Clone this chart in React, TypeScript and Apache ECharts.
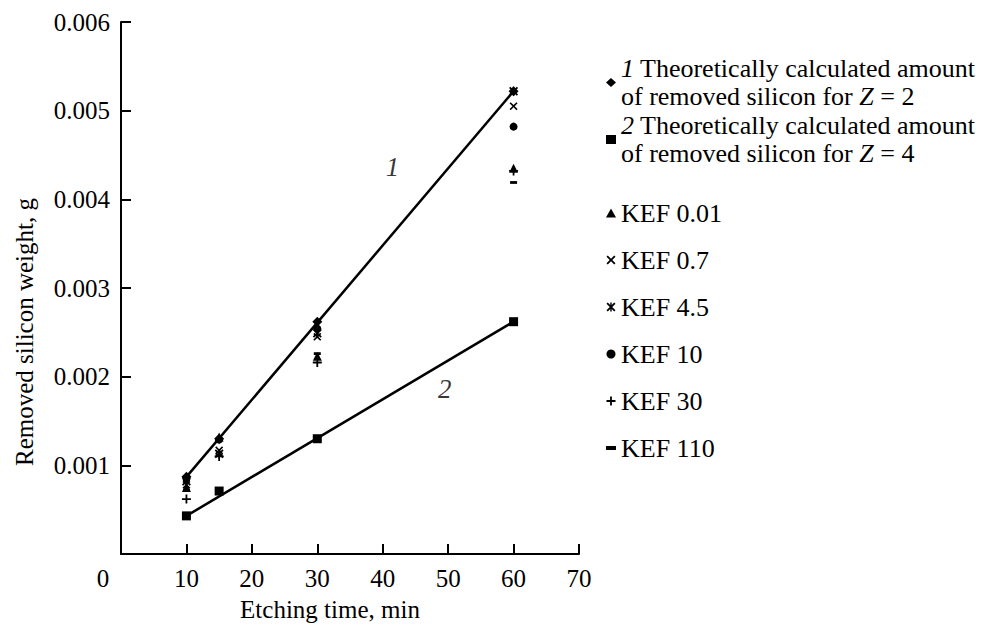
import React, { useEffect, useRef } from 'react';
import * as echarts from 'echarts';

const times = [10, 15, 30, 60];
const theoryZ2 = [0.00087, 0.0013, 0.00262, 0.00522];
const theoryZ4 = [0.00043, 0.00071, 0.0013, 0.00262];
const kef001 = [0.00075, 0.00132, 0.00223, 0.00435];
const kef07 = [0.00078, 0.00117, 0.00245, 0.00505];
const kef45 = [0.00082, 0.00113, 0.00249, 0.00522];
const kef10 = [0.00085, 0.00129, 0.00254, 0.00482];
const kef30 = [0.00062, 0.0011, 0.00216, 0.00432];
const kef110 = [0.00072, 0.00112, 0.00226, 0.00419];

const curveLabels = [
  { text: '1', x: 41.5, y: 0.00437 },
  { text: '2', x: 49.5, y: 0.00186 },
];

const NAME_Z2 = 'Theory Z=2';
const NAME_Z4 = 'Theory Z=4';
const kefNames = ['KEF 0.01', 'KEF 0.7', 'KEF 4.5', 'KEF 10', 'KEF 30', 'KEF 110'];

const FONT = 'Liberation Serif, serif';

const P_X = 'path://M0,1.4L1.4,0L5,3.6L8.6,0L10,1.4L6.4,5L10,8.6L8.6,10L5,6.4L1.4,10L0,8.6L3.6,5Z';
const P_AST = 'path://M0,1.4L1.4,0L5,3.6L8.6,0L10,1.4L6.4,5L10,8.6L8.6,10L5,6.4L1.4,10L0,8.6L3.6,5ZM4.2,0H5.8V10H4.2Z';
const P_PLUS = 'path://M4,0H6V4H10V6H6V10H4V6H0V4H4Z';
const P_MINUS = 'path://M0,0H6V2.4H0Z';

const pts = (vals: number[]) => times.map((t, i) => [t, vals[i]]);

export default function App() {
  const ref = useRef<HTMLDivElement>(null);
  useEffect(() => {
    if (!ref.current) return;
    const chart = echarts.init(ref.current, null, { renderer: 'svg' });
    const black = '#000';
    const scatter = (name: string, vals: number[], symbol: string, size: any, keep = false) => ({
      type: 'scatter',
      name,
      data: pts(vals),
      symbol,
      symbolSize: size,
      symbolKeepAspect: keep,
      itemStyle: { color: black, opacity: 1 },
      z: 3,
    });
    const legendText = (name: string) => {
      if (name === NAME_Z2) return '{i|1} Theoretically calculated amount\nof removed silicon for {i|Z} = 2';
      if (name === NAME_Z4) return '{i|2} Theoretically calculated amount\nof removed silicon for {i|Z} = 4';
      return name;
    };
    const axisText = { fontFamily: FONT, fontSize: 25, color: black };
    const legText = { fontFamily: FONT, fontSize: 26, color: black };
    chart.setOption({
      animation: false,
      textStyle: { fontFamily: FONT },
      grid: { left: 121, top: 22, width: 458, height: 540 },
      xAxis: {
        type: 'value',
        min: 0,
        max: 70,
        interval: 10,
        name: 'Etching time, min',
        nameLocation: 'middle',
        nameGap: 43,
        nameTextStyle: { ...axisText, padding: [0, 40, 0, 0] },
        axisLine: { show: true, lineStyle: { color: black, width: 2 } },
        axisTick: { show: true, inside: true, length: 10, lineStyle: { color: black, width: 2 } },
        splitLine: { show: false },
        axisLabel: {
          ...axisText,
          margin: 12,
          formatter: (v: number) => (v === 0 ? '{z|0}' : String(v)),
          rich: { z: { ...axisText, padding: [0, 36, 0, 0] } },
        },
      },
      yAxis: {
        type: 'value',
        min: 0,
        max: 0.006,
        interval: 0.001,
        name: 'Removed silicon weight, g',
        nameLocation: 'middle',
        nameGap: 84,
        nameTextStyle: { ...axisText, padding: [0, 88, 0, 0] },
        axisLine: { show: true, lineStyle: { color: black, width: 2 } },
        axisTick: { show: true, inside: true, length: 10, lineStyle: { color: black, width: 2 } },
        splitLine: { show: false },
        axisLabel: {
          ...axisText,
          margin: 11,
          formatter: (v: number) => (v === 0 ? '' : v.toFixed(3)),
        },
      },
      legend: [
        {
          data: [
            { name: NAME_Z2, icon: 'diamond' },
            { name: NAME_Z4, icon: 'rect' },
          ],
          orient: 'vertical',
          left: 606,
          top: 54,
          padding: 0,
          itemGap: 0,
          itemWidth: 10,
          itemHeight: 9,
          selectedMode: false,
          formatter: legendText,
          textStyle: {
            ...legText,
            lineHeight: 28.5,
            rich: { i: { ...legText, fontStyle: 'italic', lineHeight: 28.5 } },
          },
        },
        {
          data: [
            { name: kefNames[0], icon: 'triangle' },
            { name: kefNames[1], icon: P_X },
            { name: kefNames[2], icon: P_AST },
            { name: kefNames[3], icon: 'circle' },
            { name: kefNames[4], icon: P_PLUS },
            { name: kefNames[5], icon: P_MINUS },
          ],
          orient: 'vertical',
          left: 606,
          top: 199,
          padding: 0,
          itemGap: 19,
          itemWidth: 10,
          itemHeight: 9,
          selectedMode: false,
          textStyle: { ...legText, lineHeight: 28 },
        },
      ],
      series: [
        {
          type: 'line',
          name: 'fit1',
          data: [
            [times[0], theoryZ2[0]],
            [times[3], theoryZ2[3]],
          ],
          symbol: 'none',
          lineStyle: { color: black, width: 2.5 },
          z: 2,
        },
        {
          type: 'line',
          name: 'fit2',
          data: [
            [times[0], theoryZ4[0]],
            [times[3], theoryZ4[3]],
          ],
          symbol: 'none',
          lineStyle: { color: black, width: 2.5 },
          z: 2,
        },
        scatter(NAME_Z2, theoryZ2, 'diamond', 10),
        scatter(NAME_Z4, theoryZ4, 'rect', 9),
        scatter(kefNames[0], kef001, 'triangle', 9),
        scatter(kefNames[1], kef07, P_X, 8),
        scatter(kefNames[2], kef45, P_AST, 9),
        scatter(kefNames[3], kef10, 'circle', 8),
        scatter(kefNames[4], kef30, P_PLUS, 9),
        scatter(kefNames[5], kef110, P_MINUS, 7, true),
        {
          type: 'scatter',
          name: 'curve labels',
          data: curveLabels.map((c) => ({ value: [c.x, c.y], name: c.text })),
          symbol: 'circle',
          symbolSize: 1,
          itemStyle: { color: 'rgba(0,0,0,0)' },
          label: {
            show: true,
            position: 'inside',
            formatter: (p: any) => p.name,
            fontFamily: FONT,
            fontSize: 27,
            fontStyle: 'italic',
            color: black,
          },
          z: 4,
        },
      ],
    });
    return () => chart.dispose();
  }, []);
  return (
    <div
      ref={ref}
      style={{ position: 'fixed', left: 0, top: 0, width: 998, height: 627, background: '#fff' }}
    />
  );
}
